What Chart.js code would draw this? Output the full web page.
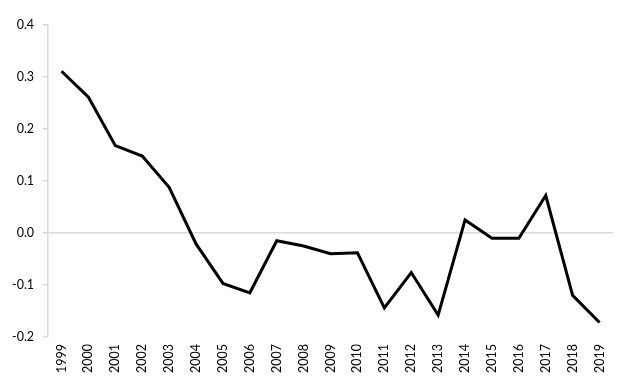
<!DOCTYPE html>
<html>
<head>
<meta charset="utf-8">
<script src="https://cdn.jsdelivr.net/npm/chart.js@4"></script>
<style>
  html, body { margin: 0; padding: 0; background: #fff; }
  #wrap { width: 626px; height: 388px; }
</style>
</head>
<body>
<div id="wrap"><canvas id="lienzo"></canvas></div>
<script>
const years = ["1999","2000","2001","2002","2003","2004","2005","2006","2007","2008","2009",
  "2010","2011","2012","2013","2014","2015","2016","2017","2018","2019"]
const values = [0.311, 0.261, 0.168, 0.148, 0.088, -0.021, -0.097, -0.115, -0.015, -0.025, -0.040,
  -0.038, -0.144, -0.076, -0.158, 0.025, -0.010, -0.010, 0.072, -0.120, -0.172]
const yMin = -0.2
const yMax = 0.4
const yStep = 0.1

const gris = "#d9d9d9"
const fuente = { family: "Lato, 'Open Sans', sans-serif", size: 12.5 }

new Chart(document.getElementById("lienzo"), {
  type: "line",
  data: {
    labels: years,
    datasets: [{
      data: values,
      borderColor: "#000",
      borderWidth: 3,
      pointRadius: 0,
      tension: 0,
      fill: false
    }]
  },
  options: {
    responsive: true,
    maintainAspectRatio: false,
    animation: false,
    layout: { padding: { top: 25, right: 13, bottom: 8, left: 3 } },
    plugins: { legend: { display: false }, tooltip: { enabled: false } },
    scales: {
      x: {
        offset: true,
        grid: { display: false, drawTicks: false },
        border: { display: false },
        ticks: {
          color: "#000",
          font: fuente,
          minRotation: 90,
          maxRotation: 90,
          autoSkip: false,
          padding: 7
        }
      },
      y: {
        min: yMin,
        max: yMax,
        grid: {
          color: ctx => Math.abs(ctx.tick.value) < 1e-9 ? gris : "rgba(0,0,0,0)",
          lineWidth: 1.5,
          tickColor: gris,
          tickLength: 5,
          drawTicks: true
        },
        border: { color: gris, width: 1.5 },
        ticks: {
          stepSize: yStep,
          color: "#000",
          font: fuente,
          padding: 9,
          callback: v => Number(v).toFixed(1)
        }
      }
    }
  }
})
</script>
</body>
</html>
